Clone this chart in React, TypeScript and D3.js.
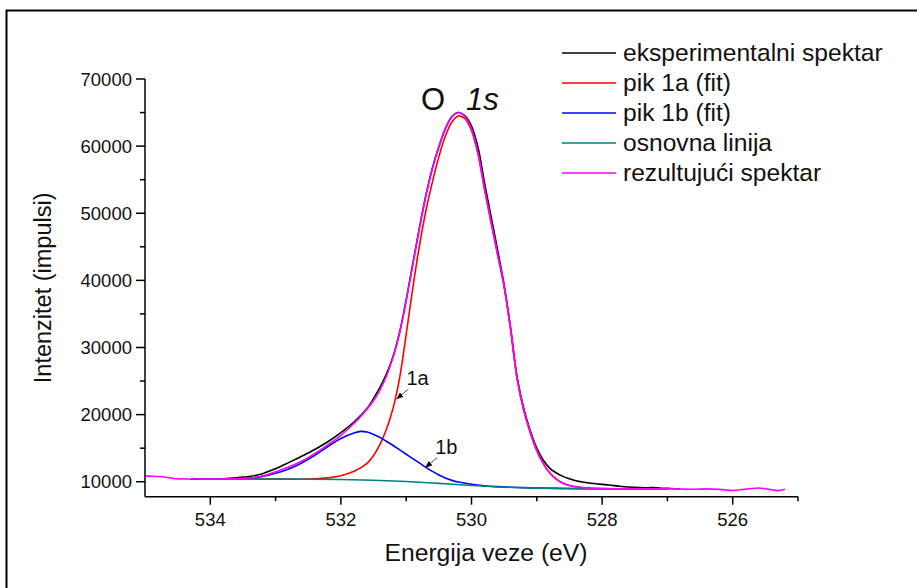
import React from "react";
import * as d3 from "d3";

// ---------- data ----------
const xTicksMajor = [534, 532, 530, 528, 526];
const xTicksMinor = [533, 531, 529, 527, 525];
const yTicksMajor = [10000, 20000, 30000, 40000, 50000, 60000, 70000];
const yTicksMinor = [15000, 25000, 35000, 45000, 55000, 65000];

const seriesNames = [
  "eksperimentalni spektar",
  "pik 1a (fit)",
  "pik 1b (fit)",
  "osnovna linija",
  "rezultujući spektar",
];
const seriesColors = ["#000000", "#ff0000", "#0000ff", "#008080", "#ff00ff"];

// experimental spectrum (black)
const expE = [534.3, 534.1, 533.9, 533.7, 533.5, 533.4, 533.2, 533.0, 532.8, 532.6, 532.4, 532.2, 532.0, 531.8, 531.6,
  531.5, 531.4, 531.3, 531.2, 531.1, 531.0, 530.9, 530.8, 530.7, 530.6, 530.5, 530.4, 530.3, 530.2, 530.1, 530.0,
  529.9, 529.8, 529.7, 529.6, 529.5, 529.4, 529.3, 529.2, 529.1, 529.0, 528.9, 528.8, 528.7, 528.6, 528.5, 528.4, 528.3,
  528.2, 528.0, 527.9, 527.7, 527.5, 527.3, 527.2, 527.1, 526.95, 526.8];
const expI = [10400, 10430, 10420, 10520, 10680, 10780, 11200, 11950, 12850, 13800, 14800, 15950, 17300, 18900, 20900,
  22400, 24100, 26100, 28700, 32300, 37100, 42400, 47700, 52600, 56700, 59900, 62600, 64400, 65000, 64500, 63000,
  59800, 54500, 49500, 44500, 39300, 32800, 25500, 20900, 17600, 15000, 13200, 12000, 11300, 10800, 10450, 10150, 9950,
  9800, 9600, 9520, 9300, 9170, 9100, 9150, 9020, 9000, 8910];

// peak 1a fit (red)
const p1aE = [534.2, 533.5, 533.0, 532.6, 532.4, 532.2, 532.0, 531.8, 531.6, 531.5, 531.4, 531.3, 531.2, 531.1, 531.0,
  530.9, 530.8, 530.7, 530.6, 530.5, 530.4, 530.3, 530.2, 530.1, 530.0, 529.9, 529.8, 529.7, 529.6, 529.5, 529.4,
  529.3, 529.2, 529.1, 529.0, 528.9, 528.8, 528.7, 528.6, 528.5, 528.4, 528.2, 528.0, 527.5, 527.0];
const p1aI = [10420, 10400, 10390, 10380, 10420, 10580, 10900, 11550, 12750, 13900, 15600, 17900, 21000, 25500, 32000,
  38800, 45000, 50300, 54600, 58400, 61500, 63600, 64500, 64100, 62300, 58800, 53500, 48600, 43800, 39000, 32600,
  25200, 20600, 17300, 14600, 12700, 11300, 10400, 9800, 9450, 9250, 9050, 8980, 8955, 8950];

// peak 1b fit (blue)
const p1bE = [534.2, 533.8, 533.4, 533.2, 533.0, 532.8, 532.6, 532.4, 532.2, 532.0, 531.8, 531.7, 531.6, 531.5, 531.4,
  531.3, 531.2, 531.1, 531.0, 530.9, 530.8, 530.7, 530.6, 530.5, 530.4, 530.3, 530.2, 530.0, 529.8, 529.6, 529.4,
  529.0, 528.5, 528.0, 527.5, 527.0];
const p1bI = [10420, 10430, 10550, 10800, 11250, 11900, 12800, 13950, 15250, 16450, 17250, 17500, 17400, 17050, 16600,
  16000, 15400, 14750, 14100, 13450, 12800, 12150, 11550, 11000, 10550, 10200, 9950, 9620, 9400, 9270, 9180,
  9060, 8985, 8960, 8950, 8950];

// baseline (teal)
const baseE = [534.2, 534.0, 533.5, 533.0, 532.5, 532.0, 531.5, 531.0, 530.5, 530.0, 529.5, 529.0, 528.5, 528.0, 527.5, 527.0];
const baseI = [10420, 10410, 10400, 10390, 10370, 10330, 10220, 10030, 9750, 9450, 9200, 9050, 8980, 8960, 8950, 8950];

// resulting spectrum (magenta)
const sumE = [535.0, 534.9, 534.8, 534.7, 534.6, 534.5, 534.4, 534.3, 534.2, 534.1, 534.0,
  533.8, 533.6, 533.4, 533.2, 533.0, 532.8, 532.6, 532.4, 532.2, 532.0, 531.8,
  531.7, 531.6, 531.5, 531.4, 531.3, 531.2, 531.1, 531.0, 530.9, 530.8, 530.7, 530.6, 530.5, 530.4, 530.3, 530.2,
  530.1, 530.0, 529.9, 529.8, 529.7, 529.6, 529.5, 529.4, 529.3, 529.2, 529.1, 529.0, 528.9, 528.8, 528.7, 528.6,
  528.5, 528.4, 528.2, 528.0, 527.8, 527.6, 527.4, 527.2, 527.0, 526.8, 526.6, 526.4, 526.2, 526.0, 525.8, 525.6,
  525.5, 525.4, 525.3, 525.2];
const sumI = [10850, 10820, 10780, 10700, 10560, 10420, 10440, 10380, 10450, 10400, 10400,
  10420, 10460, 10560, 10850, 11500, 12200, 13050, 14200, 15500, 16900, 18700,
  19700, 20800, 22100, 23700, 25800, 28600, 32200, 37000, 42300, 47600, 52500, 56600, 59900, 62600, 64400, 65000,
  64400, 62500, 58900, 53600, 48700, 43900, 39100, 32700, 25300, 20700, 17350, 14650, 12700, 11250, 10350, 9780,
  9440, 9240, 9040, 8980, 8960, 8940, 8960, 8930, 8950, 8920, 8880, 8930, 8860, 8700, 8900, 9060,
  8950, 8800, 8680, 8870];

// annotations (arrow tip in data space)
const annoLabels = ["1a", "1b"];
const annoE = [531.15, 530.71];
const annoI = [22300, 12100];

// ---------- layout ----------
const W = 917;
const H = 588;
const FONT = "'Liberation Sans', Arial, Helvetica, sans-serif";

export default function App() {
  const x = d3.scaleLinear().domain([535, 525]).range([145, 798]);
  const y = d3.scaleLinear().domain([7770, 70000]).range([496.7, 79]);

  const line = d3
    .line<[number, number]>()
    .x((d) => x(d[0]))
    .y((d) => y(d[1]))
    .curve(d3.curveCatmullRom.alpha(0.5));

  const zip = (e: number[], v: number[]) => e.map((ev, i) => [ev, v[i]] as [number, number]);

  const drawOrder: { e: number[]; v: number[]; c: string }[] = [
    { e: expE, v: expI, c: seriesColors[0] },
    { e: p1aE, v: p1aI, c: seriesColors[1] },
    { e: p1bE, v: p1bI, c: seriesColors[2] },
    { e: baseE, v: baseI, c: seriesColors[3] },
    { e: sumE, v: sumI, c: seriesColors[4] },
  ];

  const x0 = x.range()[0];
  const x1 = x.range()[1];
  const yb = y.range()[0];
  const yt = y(70000);

  return (
    <svg
      width={W}
      height={H}
      style={{ position: "fixed", left: 0, top: 0, background: "#fff" }}
      fontFamily={FONT}
    >
      <defs>
        <marker id="arr" viewBox="0 0 10 10" refX="10" refY="5" markerWidth="7" markerHeight="7" orient="auto">
          <path d="M0,1 L10,5 L0,9 Z" fill="#000" />
        </marker>
      </defs>
      <rect x={6.5} y={10.5} width={1000} height={1000} fill="none" stroke="#000" strokeWidth={2} />

      {/* data lines */}
      {drawOrder.map((s, i) => (
        <path key={i} d={line(zip(s.e, s.v)) || ""} fill="none" stroke={s.c} strokeWidth={1.6} strokeLinejoin="round" />
      ))}

      {/* axes */}
      <g stroke="#000" strokeWidth={1.5} fill="none">
        <line x1={x0} y1={yb} x2={x1} y2={yb} />
        <line x1={x0} y1={yb} x2={x0} y2={yt} />
        {xTicksMajor.map((t) => (
          <line key={"xM" + t} x1={x(t)} x2={x(t)} y1={yb} y2={yb + 8} />
        ))}
        {xTicksMinor.map((t) => (
          <line key={"xm" + t} x1={x(t)} x2={x(t)} y1={yb} y2={yb + 4.5} />
        ))}
        {yTicksMajor.map((t) => (
          <line key={"yM" + t} x1={x0} x2={x0 - 9} y1={y(t)} y2={y(t)} />
        ))}
        {yTicksMinor.map((t) => (
          <line key={"ym" + t} x1={x0} x2={x0 - 5} y1={y(t)} y2={y(t)} />
        ))}
      </g>
      <g fontSize={18.5} fill="#111">
        {xTicksMajor.map((t) => (
          <text key={"xl" + t} x={x(t)} y={yb + 29} textAnchor="middle">
            {t}
          </text>
        ))}
        {yTicksMajor.map((t) => (
          <text key={"yl" + t} x={x0 - 13} y={y(t) + 6.5} textAnchor="end">
            {t}
          </text>
        ))}
      </g>

      {/* axis titles */}
      <text x={486} y={561} textAnchor="middle" fontSize={24.7} fill="#111">
        Energija veze (eV)
      </text>
      <text
        transform={`translate(51, ${(yb + yt) / 2}) rotate(-90)`}
        textAnchor="middle"
        fontSize={23.5}
        fill="#111"
      >
        Intenzitet (impulsi)
      </text>

      {/* peak title */}
      <text x={421} y={110} fontSize={31} fill="#111">
        O
        <tspan x={466} fontStyle="italic">1s</tspan>
      </text>

      {/* annotations */}
      {annoLabels.map((lab, i) => {
        const tx = x(annoE[i]);
        const ty = y(annoI[i]);
        return (
          <g key={lab}>
            <line x1={tx + 12} y1={ty - 10} x2={tx} y2={ty} stroke="#555" strokeWidth={1} markerEnd="url(#arr)" />
            <text x={tx + 10} y={ty - 14} fontSize={20} fill="#111">
              {lab}
            </text>
          </g>
        );
      })}

      {/* legend */}
      {seriesNames.map((n, i) => (
        <g key={n} transform={`translate(0, ${53 + i * 30})`}>
          <line x1={562} x2={616} y1={0} y2={0} stroke={seriesColors[i]} strokeWidth={1.6} />
          <text x={623} y={8} fontSize={24.6} fill="#111">
            {n}
          </text>
        </g>
      ))}
    </svg>
  );
}
